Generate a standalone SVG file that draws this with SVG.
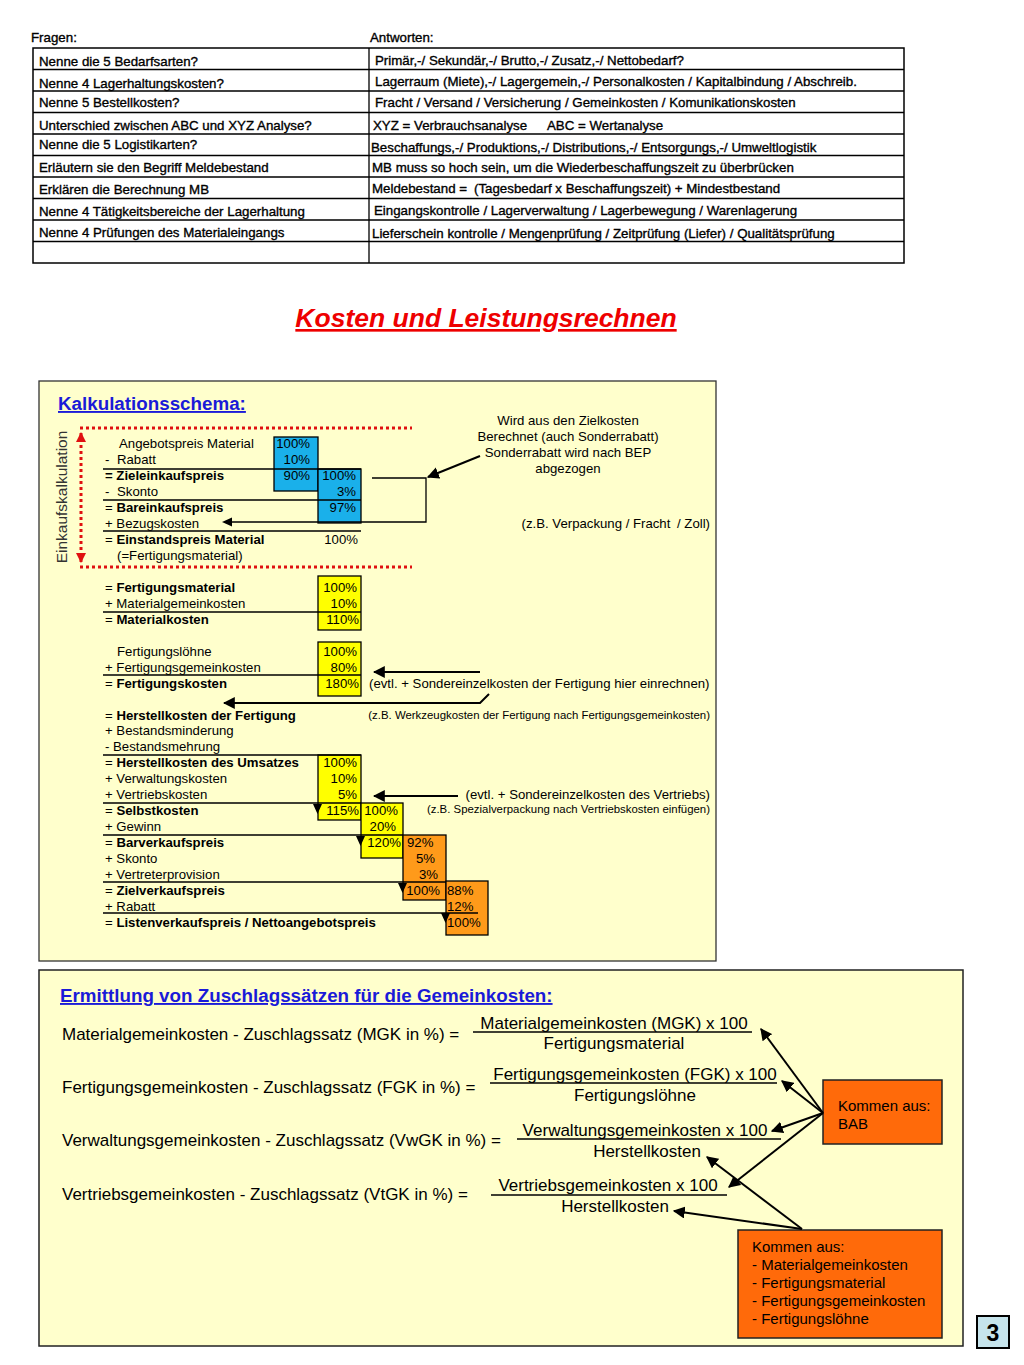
<svg xmlns="http://www.w3.org/2000/svg" width="1024" height="1365" viewBox="0 0 1024 1365">
<style>
text{font-family:"Liberation Sans",Arial,sans-serif;fill:#000}
.tb{font-size:13.3px;stroke:#000;stroke-width:0.35}
.s{font-size:13.2px}
.b{font-weight:bold}
.sm{font-size:11.4px}
.f{font-size:17px}
.pe{font-size:13.2px;text-anchor:end}
.ln{stroke:#000;stroke-width:1.3;fill:none}
.red{stroke:#e01010;stroke-width:3;stroke-dasharray:3 3;fill:none}
.blue{fill:#1ab0ea;stroke:#000;stroke-width:1.3}
.yel{fill:#ffff00;stroke:#000;stroke-width:1.3}
.org{fill:#ff9a1a;stroke:#000;stroke-width:1.3}
.org2{fill:#ff6a0a;stroke:#222;stroke-width:1.5}
.ar{stroke:#000;stroke-width:2;fill:none;marker-end:url(#ah)}
.hd{font-size:18.8px;font-weight:bold;fill:#1a1ad8;text-decoration:underline}
</style>
<defs>
<marker id="ah" viewBox="0 0 10 10" refX="9" refY="5" markerWidth="6" markerHeight="6" orient="auto-start-reverse" markerUnits="strokeWidth"><path d="M0,0 L10,5 L0,10 z" fill="#000"/></marker>
<marker id="ahr" viewBox="0 0 10 10" refX="9" refY="5" markerWidth="3.5" markerHeight="3.5" orient="auto-start-reverse" markerUnits="strokeWidth"><path d="M0,0 L10,5 L0,10 z" fill="#e01010"/></marker>
</defs>
<rect width="1024" height="1365" fill="#fff"/>

<!-- Table -->
<g id="table">
<text class="tb" x="31" y="42">Fragen:</text>
<text class="tb" x="370" y="42">Antworten:</text>
<rect x="33" y="48" width="871" height="215" fill="none" stroke="#000" stroke-width="1.5"/>
<path class="ln" d="M369,48V263 M33,69.5H904 M33,91H904 M33,112.5H904 M33,134H904 M33,155.5H904 M33,177H904 M33,198.5H904 M33,220H904 M33,241.5H904"/>
<text class="tb" x="39" y="65.5">Nenne die 5 Bedarfsarten?</text>
<text class="tb" x="39" y="87.5">Nenne 4 Lagerhaltungskosten?</text>
<text class="tb" x="39" y="106.5">Nenne 5 Bestellkosten?</text>
<text class="tb" x="39" y="129.5">Unterschied zwischen ABC und XYZ Analyse?</text>
<text class="tb" x="39" y="148.5">Nenne die 5 Logistikarten?</text>
<text class="tb" x="39" y="171.5">Erläutern sie den Begriff Meldebestand</text>
<text class="tb" x="39" y="193.5">Erklären die Berechnung MB</text>
<text class="tb" x="39" y="215.5">Nenne 4 Tätigkeitsbereiche der Lagerhaltung</text>
<text class="tb" x="39" y="236.5">Nenne 4 Prüfungen des Materialeingangs</text>
<text class="tb" x="375" y="64.5">Primär,-/ Sekundär,-/ Brutto,-/ Zusatz,-/ Nettobedarf?</text>
<text class="tb" x="375" y="85.5">Lagerraum (Miete),-/ Lagergemein,-/ Personalkosten / Kapitalbindung / Abschreib.</text>
<text class="tb" x="375" y="106.5">Fracht / Versand / Versicherung / Gemeinkosten / Komunikationskosten</text>
<text class="tb" x="373" y="129.5">XYZ = Verbrauchsanalyse<tspan x="547">ABC = Wertanalyse</tspan></text>
<text class="tb" x="371" y="151.5">Beschaffungs,-/ Produktions,-/ Distributions,-/ Entsorgungs,-/ Umweltlogistik</text>
<text class="tb" x="372" y="171.5">MB muss so hoch sein, um die Wiederbeschaffungszeit zu überbrücken</text>
<text class="tb" x="372" y="192.5">Meldebestand =<tspan x="474">(Tagesbedarf x Beschaffungszeit) + Mindestbestand</tspan></text>
<text class="tb" x="374" y="214.5">Eingangskontrolle / Lagerverwaltung / Lagerbewegung / Warenlagerung</text>
<text class="tb" x="372" y="237.5">Lieferschein kontrolle / Mengenprüfung / Zeitprüfung (Liefer) / Qualitätsprüfung</text>
</g>

<g id="title">
<text x="486" y="327" text-anchor="middle" style="font-size:26.5px;font-weight:bold;font-style:italic;fill:#ee0000;text-decoration:underline">Kosten und Leistungsrechnen</text>
</g>

<!-- Kalkulationsschema panel -->
<g id="panel-kalkulation">
<rect x="39" y="381" width="677" height="580" fill="#ffffcc" stroke="#333" stroke-width="1.3"/>
<text class="hd" x="58" y="410">Kalkulationsschema:</text>
</g>

<g id="einkauf">
<path class="red" d="M80,428H412 M80,567H412"/>
<line x1="81" y1="433" x2="81" y2="562" stroke="#e01010" stroke-width="3" stroke-dasharray="3 3" marker-start="url(#ahr)" marker-end="url(#ahr)"/>
<text x="67" y="497" text-anchor="middle" transform="rotate(-90 67 497)" style="font-size:15.5px;fill:#333">Einkaufskalkulation</text>
<rect class="blue" x="274" y="437" width="44" height="54"/>
<rect class="blue" x="318" y="469" width="43" height="54"/>
<path class="ln" d="M103,469H361 M103,500H361 M103,531H361"/>
<text class="s" x="119" y="448">Angebotspreis Material</text>
<text class="s" x="105" y="464">-<tspan x="117">Rabatt</tspan></text>
<text class="s b" x="105" y="480">= Zieleinkaufspreis</text>
<text class="s" x="105" y="496">-<tspan x="117">Skonto</tspan></text>
<text class="s" x="105" y="512">= <tspan class="b">Bareinkaufspreis</tspan></text>
<text class="s" x="105" y="528">+ Bezugskosten</text>
<text class="s" x="105" y="544">= <tspan class="b">Einstandspreis Material</tspan></text>
<text class="s" x="117" y="560">(=Fertigungsmaterial)</text>
<text class="pe" x="310" y="448">100%</text>
<text class="pe" x="310" y="464">10%</text>
<text class="pe" x="310" y="480">90%</text>
<text class="pe" x="356" y="480">100%</text>
<text class="pe" x="356" y="496">3%</text>
<text class="pe" x="356" y="512">97%</text>
<text class="pe" x="358" y="544">100%</text>
</g>

<g id="material">
<rect class="yel" x="318" y="576" width="43" height="54"/>
<path class="ln" d="M103,612H361"/>
<text class="s" x="105" y="592">= <tspan class="b">Fertigungsmaterial</tspan></text>
<text class="s" x="105" y="608">+ Materialgemeinkosten</text>
<text class="s" x="105" y="624">= <tspan class="b">Materialkosten</tspan></text>
<text class="pe" x="357" y="592">100%</text>
<text class="pe" x="357" y="608">10%</text>
<text class="pe" x="359" y="624">110%</text>
</g>

<g id="fertigung">
<rect class="yel" x="318" y="642" width="43" height="54"/>
<path class="ln" d="M103,675H361"/>
<text class="s" x="117" y="656">Fertigungslöhne</text>
<text class="s" x="105" y="672">+ Fertigungsgemeinkosten</text>
<text class="s" x="105" y="688">= <tspan class="b">Fertigungskosten</tspan></text>
<text class="pe" x="357" y="656">100%</text>
<text class="pe" x="357" y="672">80%</text>
<text class="pe" x="359" y="688">180%</text>
</g>

<g id="herstellung">
<text class="s" x="105" y="720">= <tspan class="b">Herstellkosten der Fertigung</tspan></text>
<text class="s" x="105" y="735">+ Bestandsminderung</text>
<text class="s" x="105" y="751">- Bestandsmehrung</text>
</g>

<g id="verkauf">
<rect class="yel" x="318" y="755" width="43" height="65"/>
<rect class="yel" x="361" y="803" width="42" height="55"/>
<rect class="org" x="403" y="835" width="43" height="65"/>
<rect class="org" x="446" y="881" width="42" height="54"/>
<path class="ln" d="M103,755H361 M103,803H361 M103,835H403 M103,882H446 M103,913H478"/>
<text class="s" x="105" y="767">= <tspan class="b">Herstellkosten des Umsatzes</tspan></text>
<text class="s" x="105" y="783">+ Verwaltungskosten</text>
<text class="s" x="105" y="799">+ Vertriebskosten</text>
<text class="s" x="105" y="815">= <tspan class="b">Selbstkosten</tspan></text>
<text class="s" x="105" y="831">+ Gewinn</text>
<text class="s" x="105" y="847">= <tspan class="b">Barverkaufspreis</tspan></text>
<text class="s" x="105" y="863">+ Skonto</text>
<text class="s" x="105" y="879">+ Vertreterprovision</text>
<text class="s" x="105" y="895">= <tspan class="b">Zielverkaufspreis</tspan></text>
<text class="s" x="105" y="911">+ Rabatt</text>
<text class="s" x="105" y="927">= <tspan class="b">Listenverkaufspreis / Nettoangebotspreis</tspan></text>
<text class="pe" x="357" y="767">100%</text>
<text class="pe" x="357" y="783">10%</text>
<text class="pe" x="357" y="799">5%</text>
<text class="pe" x="359" y="815">115%</text>
<text class="pe" x="398" y="815">100%</text>
<text class="pe" x="396" y="831">20%</text>
<text class="pe" x="401" y="847">120%</text>
<text class="s" x="407" y="847">92%</text>
<text class="pe" x="435" y="863">5%</text>
<text class="pe" x="438" y="879">3%</text>
<text class="pe" x="440" y="895">100%</text>
<text class="s" x="447" y="895">88%</text>
<text class="s" x="447" y="911">12%</text>
<text class="s" x="447" y="927">100%</text>
<path d="M313,804 L322,804 L317.5,814 z M356,836 L365,836 L360.5,846 z M398,883 L407,883 L402.5,893 z M441,913 L450,913 L445.5,923 z" fill="#000"/>
</g>

<g id="annotations">
<text class="s" x="568" y="425" text-anchor="middle">Wird aus den Zielkosten</text>
<text class="s" x="568" y="441" text-anchor="middle">Berechnet (auch Sonderrabatt)</text>
<text class="s" x="568" y="457" text-anchor="middle">Sonderrabatt wird nach BEP</text>
<text class="s" x="568" y="473" text-anchor="middle">abgezogen</text>
<text class="s" x="710" y="528" text-anchor="end">(z.B. Verpackung / Fracht <tspan dx="3">/ Zoll)</tspan></text>
<text class="s" x="369" y="688">(evtl. + Sondereinzelkosten der Fertigung hier einrechnen)</text>
<text class="sm" x="710" y="718.5" text-anchor="end">(z.B. Werkzeugkosten der Fertigung nach Fertigungsgemeinkosten)</text>
<text class="s" x="710" y="799" text-anchor="end">(evtl. + Sondereinzelkosten des Vertriebs)</text>
<text class="sm" x="710" y="812.5" text-anchor="end">(z.B. Spezialverpackung nach Vertriebskosten einfügen)</text>
</g>

<g id="connectors-top">
<path class="ln" d="M372,478H426V522H230" stroke-width="1.5"/>
<path d="M222,522 L232,517.5 L232,526.5 z" fill="#000"/>
<line class="ar" x1="480" y1="456" x2="428" y2="477"/>
<line class="ar" x1="480" y1="672" x2="374" y2="672"/>
<path class="ar" d="M489,694 L480,703 L224,703"/>
<line class="ar" x1="458" y1="796" x2="374" y2="796"/>
</g>

<!-- Zuschlagssaetze panel -->
<g id="panel-zuschlag">
<rect x="39" y="970" width="924" height="376" fill="#ffffcc" stroke="#222" stroke-width="1.5"/>
<text class="hd" x="60" y="1002">Ermittlung von Zuschlagssätzen für die Gemeinkosten:</text>
</g>

<g id="formula-mgk">
<text class="f" x="62" y="1040">Materialgemeinkosten - Zuschlagssatz (MGK in %) =</text>
<text class="f" x="614" y="1029" text-anchor="middle">Materialgemeinkosten (MGK) x 100</text>
<line x1="473" y1="1032" x2="752" y2="1032" stroke="#000" stroke-width="1.3"/>
<text class="f" x="614" y="1049" text-anchor="middle">Fertigungsmaterial</text>
</g>
<g id="formula-fgk">
<text class="f" x="62" y="1093">Fertigungsgemeinkosten - Zuschlagssatz (FGK in %) =</text>
<text class="f" x="635" y="1080" text-anchor="middle">Fertigungsgemeinkosten (FGK) x 100</text>
<line x1="490" y1="1083" x2="777" y2="1083" stroke="#000" stroke-width="1.3"/>
<text class="f" x="635" y="1101" text-anchor="middle">Fertigungslöhne</text>
</g>
<g id="formula-vwgk">
<text class="f" x="62" y="1146">Verwaltungsgemeinkosten - Zuschlagssatz (VwGK in %) =</text>
<text class="f" x="645" y="1136" text-anchor="middle">Verwaltungsgemeinkosten x 100</text>
<line x1="517" y1="1139" x2="781" y2="1139" stroke="#000" stroke-width="1.3"/>
<text class="f" x="647" y="1157" text-anchor="middle">Herstellkosten</text>
</g>
<g id="formula-vtgk">
<text class="f" x="62" y="1200">Vertriebsgemeinkosten - Zuschlagssatz (VtGK in %) =</text>
<text class="f" x="608" y="1191" text-anchor="middle">Vertriebsgemeinkosten x 100</text>
<line x1="491" y1="1195" x2="727" y2="1195" stroke="#000" stroke-width="1.3"/>
<text class="f" x="615" y="1212" text-anchor="middle">Herstellkosten</text>
</g>

<g id="box-bab">
<rect class="org2" x="823" y="1080" width="119" height="64"/>
<text x="838" y="1111" style="font-size:15px">Kommen aus:</text>
<text x="838" y="1129" style="font-size:15px">BAB</text>
</g>
<g id="box-kosten">
<rect class="org2" x="738" y="1230" width="204" height="108"/>
<text x="752" y="1252" style="font-size:15px">Kommen aus:</text>
<text x="752" y="1270" style="font-size:15px">- Materialgemeinkosten</text>
<text x="752" y="1288" style="font-size:15px">- Fertigungsmaterial</text>
<text x="752" y="1306" style="font-size:15px">- Fertigungsgemeinkosten</text>
<text x="752" y="1324" style="font-size:15px">- Fertigungslöhne</text>
</g>

<g id="connectors-bottom">
<line class="ar" x1="823" y1="1113" x2="761" y2="1029"/>
<line class="ar" x1="823" y1="1113" x2="782" y2="1081"/>
<line class="ar" x1="823" y1="1113" x2="772" y2="1131"/>
<line class="ar" x1="823" y1="1113" x2="729" y2="1187"/>
<line class="ar" x1="802" y1="1229" x2="707" y2="1157"/>
<line class="ar" x1="802" y1="1229" x2="674" y2="1211"/>
</g>

<g id="page-number">
<rect x="977" y="1316" width="32" height="32" fill="#c6e4ec" stroke="#000" stroke-width="2"/>
<text x="993" y="1341" text-anchor="middle" style="font-size:23px;font-weight:bold">3</text>
</g>
</svg>
